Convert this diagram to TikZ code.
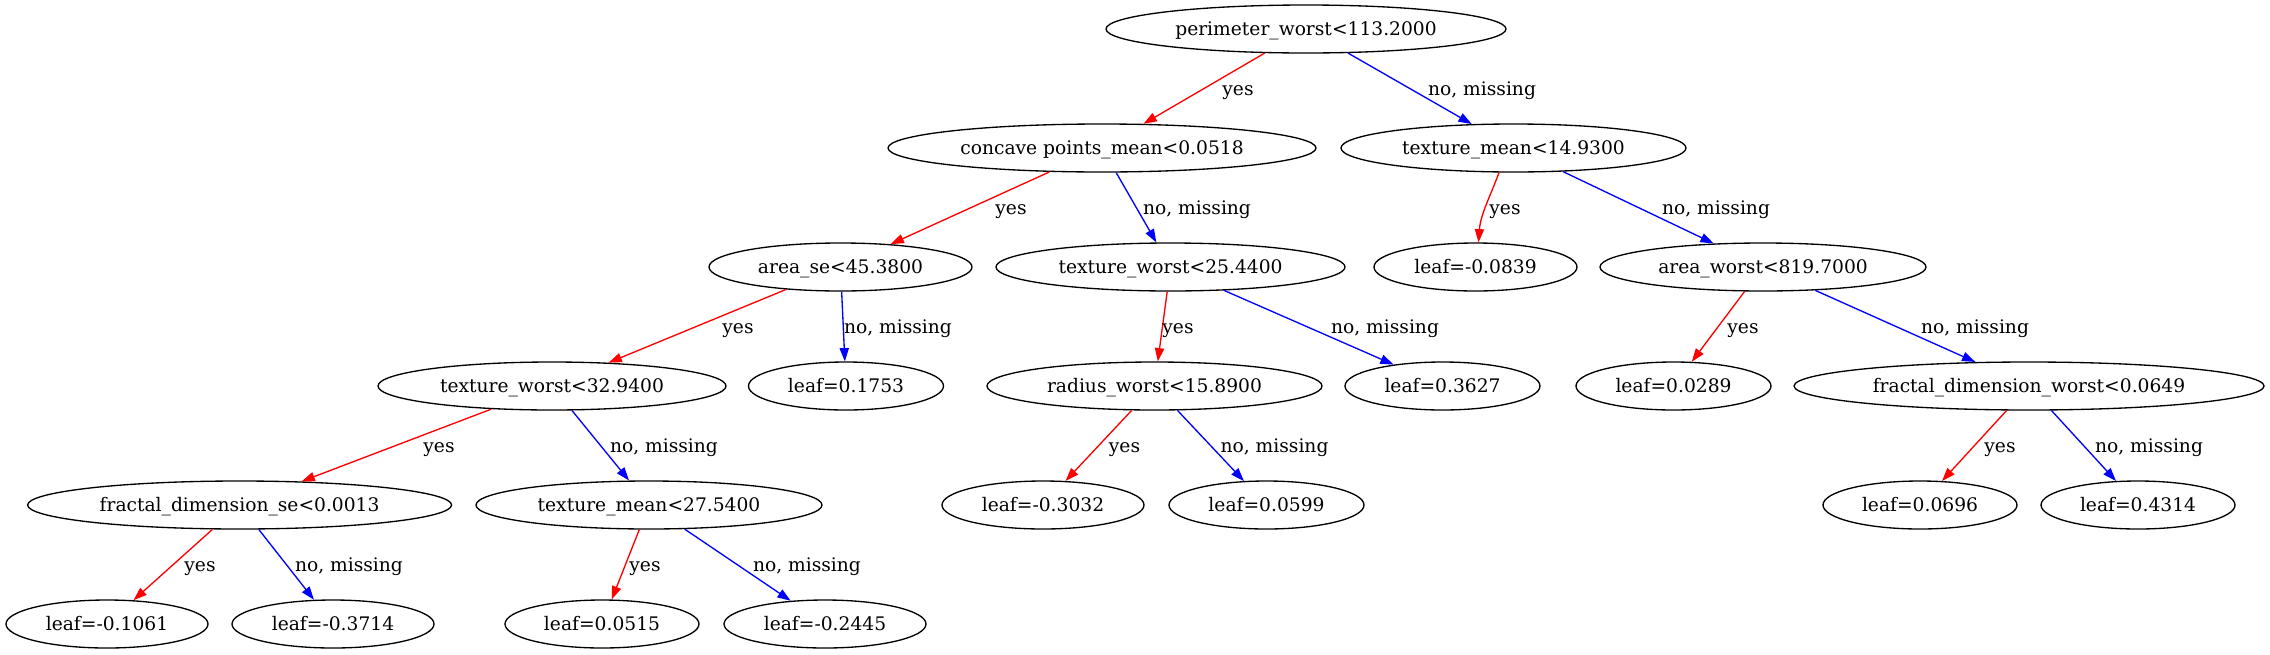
\documentclass[tikz,border=0pt]{standalone}
\usepackage{fontspec}
\setmainfont{DejaVu Serif}
\usetikzlibrary{arrows.meta,shapes.geometric}
\begin{document}
\begin{tikzpicture}[x=1pt,y=-1pt,
  tnode/.style={draw=black, line width=1.33pt, ellipse, inner sep=0pt,
    minimum height=48pt, text height=13.5pt, text depth=0pt,
    font=\fontsize{18.67}{22}\selectfont},
  elab/.style={anchor=base, inner sep=0pt, font=\fontsize{18.67}{22}\selectfont},
  yesedge/.style={draw=red, line width=1.33pt, -{Triangle[length=13.3pt,width=9.3pt]}},
  noedge/.style={draw=blue, line width=1.33pt, -{Triangle[length=13.3pt,width=9.3pt]}}
]
\useasboundingbox (0,0) rectangle (2270,654);
% nodes
\node[tnode, minimum width=400pt] (pw) at (1306,29) {perimeter\_worst<113.2000};
\node[tnode, minimum width=428pt] (cp) at (1102,148) {concave points\_mean<0.0518};
\node[tnode, minimum width=345pt] (tmA) at (1513.5,148) {texture\_mean<14.9300};
\node[tnode, minimum width=263pt] (as) at (840.5,267) {area\_se<45.3800};
\node[tnode, minimum width=349pt] (twA) at (1170.5,267) {texture\_worst<25.4400};
\node[tnode, minimum width=203pt] (l0839) at (1475.5,267) {leaf=-0.0839};
\node[tnode, minimum width=326pt] (aw) at (1763,267) {area\_worst<819.7000};
\node[tnode, minimum width=348pt] (twB) at (552,386) {texture\_worst<32.9400};
\node[tnode, minimum width=195pt] (l1753) at (846,386) {leaf=0.1753};
\node[tnode, minimum width=335pt] (rw) at (1154.5,386) {radius\_worst<15.8900};
\node[tnode, minimum width=195pt] (l3627) at (1442.5,386) {leaf=0.3627};
\node[tnode, minimum width=195pt] (l0289) at (1673.5,386) {leaf=0.0289};
\node[tnode, minimum width=470pt] (fdw) at (2029,386) {fractal\_dimension\_worst<0.0649};
\node[tnode, minimum width=424pt] (fdse) at (239.6,505) {fractal\_dimension\_se<0.0013};
\node[tnode, minimum width=346pt] (tmB) at (649,505) {texture\_mean<27.5400};
\node[tnode, minimum width=202pt] (l3032) at (1043,505) {leaf=-0.3032};
\node[tnode, minimum width=195pt] (l0599) at (1266.5,505) {leaf=0.0599};
\node[tnode, minimum width=194pt] (l0696) at (1920,505) {leaf=0.0696};
\node[tnode, minimum width=194pt] (l4314) at (2138,505) {leaf=0.4314};
\node[tnode, minimum width=202pt] (l1061) at (107,624) {leaf=-0.1061};
\node[tnode, minimum width=202pt] (l3714) at (333,624) {leaf=-0.3714};
\node[tnode, minimum width=194pt] (l0515) at (602,624) {leaf=0.0515};
\node[tnode, minimum width=202pt] (l2445) at (825,624) {leaf=-0.2445};
% edges
\draw[yesedge] (pw) -- (cp);
\draw[noedge] (pw) -- (tmA);
\draw[yesedge] (cp) -- (as);
\draw[noedge] (cp) -- (twA);
\draw[yesedge] ([xshift=-14.5pt]tmA.south) .. controls ([xshift=-23pt,yshift=-23pt]tmA.south) and ([xshift=5pt,yshift=28pt]l0839.north) .. ([xshift=3pt]l0839.north);
\draw[noedge] (tmA) -- (aw);
\draw[yesedge] (as) -- (twB);
\draw[noedge] (as) -- (l1753);
\draw[yesedge] (twA) -- (rw);
\draw[noedge] (twA) -- (l3627);
\draw[yesedge] (aw) -- (l0289);
\draw[noedge] (aw) -- (fdw);
\draw[yesedge] (twB) -- (fdse);
\draw[noedge] (twB) -- (tmB);
\draw[yesedge] (rw) -- (l3032);
\draw[noedge] (rw) -- (l0599);
\draw[yesedge] (fdw) -- (l0696);
\draw[noedge] (fdw) -- (l4314);
\draw[yesedge] (fdse) -- (l1061);
\draw[noedge] (fdse) -- (l3714);
\draw[yesedge] (tmB) -- (l0515);
\draw[noedge] (tmB) -- (l2445);
% edge labels
\node[elab] (e1) at (1238,95) {yes};
\node[elab] (e2) at (1482,95) {no, missing};
\node[elab] (e3) at (1011,214) {yes};
\node[elab] (e4) at (1197,214) {no, missing};
\node[elab] (e5) at (1505,214) {yes};
\node[elab] (e6) at (1716,214) {no, missing};
\node[elab] (e7) at (738,333) {yes};
\node[elab] (e8) at (898,333) {no, missing};
\node[elab] (e9) at (1178,333) {yes};
\node[elab] (e10) at (1385,333) {no, missing};
\node[elab] (e11) at (1743,333) {yes};
\node[elab] (e12) at (1975,333) {no, missing};
\node[elab] (e13) at (439,452) {yes};
\node[elab] (e14) at (664,452) {no, missing};
\node[elab] (e15) at (1124.5,452) {yes};
\node[elab] (e16) at (1274.5,452) {no, missing};
\node[elab] (e17) at (2000,452) {yes};
\node[elab] (e18) at (2149,452) {no, missing};
\node[elab] (e19) at (200,571) {yes};
\node[elab] (e20) at (349,571) {no, missing};
\node[elab] (e21) at (645,571) {yes};
\node[elab] (e22) at (807,571) {no, missing};
\end{tikzpicture}
\end{document}
